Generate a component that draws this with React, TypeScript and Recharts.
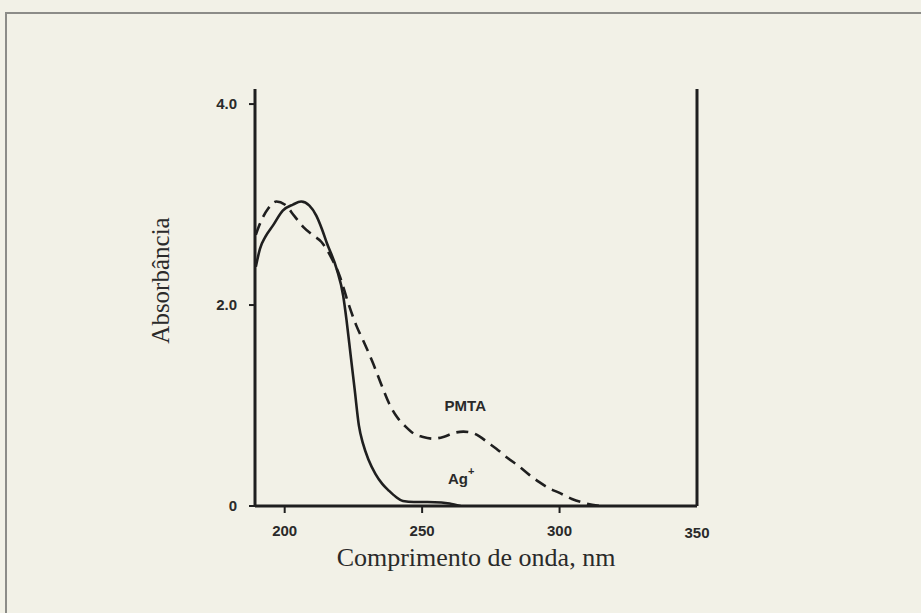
import React from "react";
import { LineChart, Line, XAxis, YAxis, ReferenceLine, ReferenceDot } from "recharts";

// Ag+ (solid curve)
const agWavelength = [189.5, 191, 193, 195.7, 199.3, 203, 206, 209, 211.5, 213.5, 215.3, 218.9, 221.3, 222.5, 224, 225.5, 227, 228.5, 230.5, 233, 235.5, 238, 240.5, 243, 247, 252, 257, 260, 264];
const agAbsorbance = [2.38, 2.56, 2.68, 2.79, 2.94, 3.0, 3.03, 2.99, 2.89, 2.76, 2.62, 2.36, 2.09, 1.85, 1.5, 1.15, 0.8, 0.62, 0.46, 0.32, 0.22, 0.15, 0.09, 0.05, 0.04, 0.04, 0.035, 0.025, 0.0];

// PMTA (dashed curve)
const pmtaWavelength = [189.5, 191.5, 194, 197, 200, 203.7, 207, 210, 213.3, 217, 220, 223, 226, 229, 232, 235, 238, 241, 244, 247, 250, 254, 258, 262, 265, 268, 271, 274, 277, 281, 285, 289, 292.5, 296, 300, 304.5, 309, 314.6];
const pmtaAbsorbance = [2.7, 2.84, 2.96, 3.03, 3.0, 2.88, 2.77, 2.7, 2.63, 2.47, 2.29, 2.03, 1.8, 1.62, 1.43, 1.22, 1.02, 0.88, 0.79, 0.72, 0.69, 0.67, 0.69, 0.73, 0.74, 0.73, 0.69, 0.63, 0.57, 0.48, 0.4, 0.31, 0.24, 0.18, 0.13, 0.07, 0.03, 0.0];

const xTicks = [200, 250, 300];
const xEndTick = 350;
const yTicks = [0, 2, 4];
const xDomain = [189.2, 350];
const yDomain = [0, 4.15];

const agData = agWavelength.map((x, i) => ({ x, y: agAbsorbance[i] }));
const pmtaData = pmtaWavelength.map((x, i) => ({ x, y: pmtaAbsorbance[i] }));

const INK = "#1f1f1f";
const TEXT = "#2a2a2a";
const SANS = "'Liberation Sans', Arial, sans-serif";
const SERIF = "'Liberation Serif', 'Times New Roman', serif";

const tickStyle = { fill: TEXT, fontSize: 15, fontWeight: 700, fontFamily: SANS };

const centerOf = (props: any) => {
  const vb = props.viewBox || {};
  return { cx: (vb.x || 0) + (vb.width || 0) / 2, cy: (vb.y || 0) + (vb.height || 0) / 2 };
};

const AgLabel = (props: any) => {
  const { cx, cy } = centerOf(props);
  return (
    <text x={cx} y={cy} textAnchor="middle" dominantBaseline="central" fill={TEXT} fontFamily={SANS} fontWeight={700} fontSize={15}>
      <tspan>Ag</tspan>
      <tspan dy={-7} fontSize={11}>+</tspan>
    </text>
  );
};

const PmtaLabel = (props: any) => {
  const { cx, cy } = centerOf(props);
  return (
    <text x={cx} y={cy} textAnchor="middle" dominantBaseline="central" fill={TEXT} fontFamily={SANS} fontWeight={700} fontSize={15}>
      PMTA
    </text>
  );
};

const YTitle = (props: any) => {
  const { cx, cy } = centerOf(props);
  const x = cx - 65;
  const y = cy - 17;
  return (
    <text x={x} y={y} transform={`rotate(-90, ${x}, ${y})`} textAnchor="middle" dominantBaseline="central" fill={TEXT} fontFamily={SERIF} fontSize={25}>
      Absorbância
    </text>
  );
};

export default function App() {
  return (
    <div style={{ position: "absolute", left: 0, top: 0, width: 921, height: 613, background: "#f2f1e7", overflow: "hidden" }}>
      <div style={{ position: "absolute", left: 5, top: 12, width: 930, height: 620, borderTop: "2px solid #8c8c88", borderLeft: "2px solid #8c8c88" }} />
      <LineChart width={921} height={613} margin={{ top: 89, right: 224, left: 195, bottom: 77 }} style={{ position: "absolute", left: 0, top: 0 }}>
        <XAxis
          type="number"
          dataKey="x"
          domain={xDomain}
          ticks={xTicks}
          allowDataOverflow
          height={30}
          axisLine={{ stroke: INK, strokeWidth: 3 }}
          tickLine={{ stroke: INK, strokeWidth: 2 }}
          tickSize={7}
          tickMargin={12}
          tick={tickStyle}
          label={{ value: "Comprimento de onda, nm", position: "bottom", offset: 12, style: { fill: TEXT, fontSize: 26, fontFamily: SERIF } }}
        />
        <YAxis
          type="number"
          dataKey="y"
          domain={yDomain}
          ticks={yTicks}
          allowDataOverflow
          width={60}
          axisLine={{ stroke: INK, strokeWidth: 3 }}
          tickLine={{ stroke: INK, strokeWidth: 2 }}
          tickSize={6}
          tickMargin={12}
          tick={tickStyle}
          tickFormatter={(v: number) => (v === 0 ? "0" : v.toFixed(1))}
          label={<YTitle />}
        />
        <ReferenceLine x={xEndTick} stroke={INK} strokeWidth={3} label={{ value: String(xEndTick), position: "bottom", offset: 21, style: tickStyle }} />
        <Line data={pmtaData} dataKey="y" type="monotone" stroke={INK} strokeWidth={2.6} strokeDasharray="12 7" dot={false} isAnimationActive={false} />
        <Line data={agData} dataKey="y" type="monotone" stroke={INK} strokeWidth={2.6} dot={false} isAnimationActive={false} />
        <ReferenceDot x={265.7} y={1.0} r={0} fill="none" stroke="none" label={<PmtaLabel />} />
        <ReferenceDot x={264.2} y={0.28} r={0} fill="none" stroke="none" label={<AgLabel />} />
      </LineChart>
    </div>
  );
}
